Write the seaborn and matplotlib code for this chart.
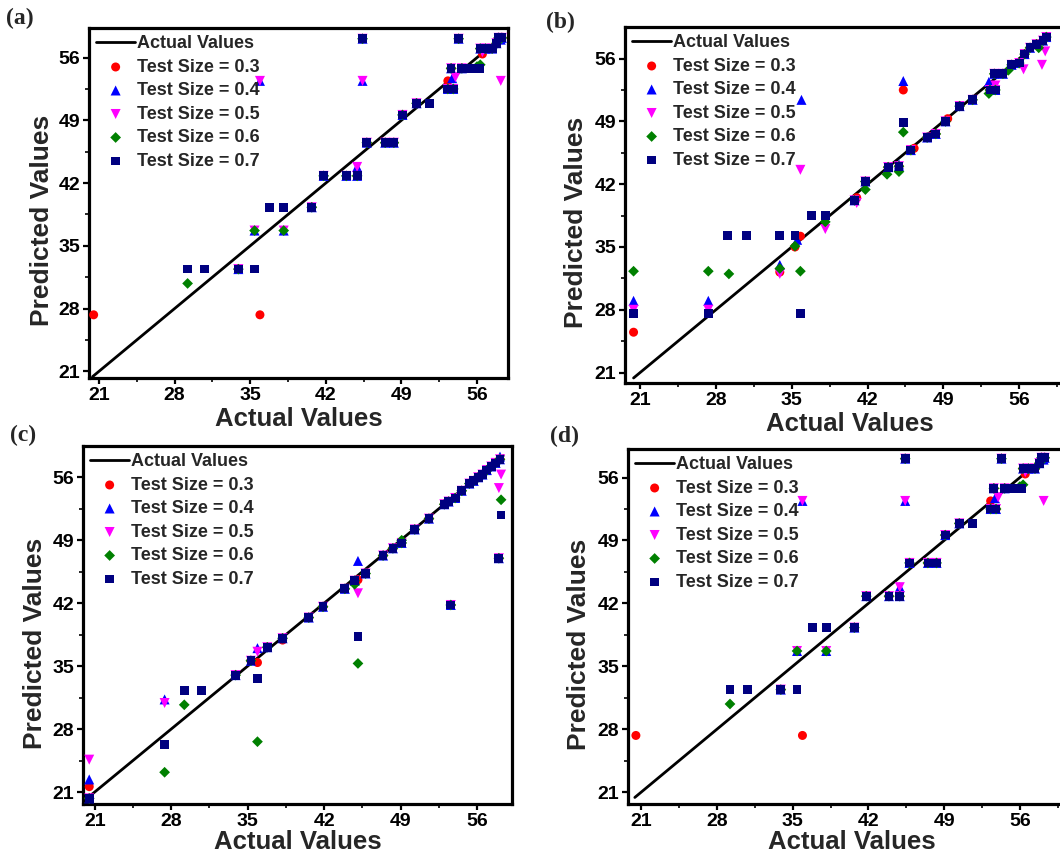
import matplotlib
matplotlib.use("Agg")
import matplotlib.pyplot as plt
import seaborn as sns
from matplotlib.ticker import FixedLocator

sns.set_theme(style="ticks")
plt.rcParams['font.family'] = ['Liberation Sans', 'DejaVu Sans']

# ---------------- data ----------------
SERIES_LABELS = ["Test Size = 0.3", "Test Size = 0.4", "Test Size = 0.5",
                 "Test Size = 0.6", "Test Size = 0.7"]
SERIES_COLORS = ["#ff0000", "#0000ff", "#ff00ff", "#008000", "#000080"]
SERIES_MARKERS = ["o", "^", "v", "D", "s"]
SERIES_SIZES = [42, 52, 52, 30, 40]
LINE_LABEL = "Actual Values"
MAJOR_TICKS = [21, 28, 35, 42, 49, 56]
LINE_X = [20.4, 58.4]
PANEL_LETTERS = ["(a)", "(b)", "(c)", "(d)"]

# (actual, predicted) pairs; COMMON points are shared by all five test sizes
A_COMMON = [(33.9, 32.4), (40.7, 39.3), (41.8, 42.8), (43.9, 42.8), (44.9, 42.8),
            (45.8, 46.5), (47.5, 46.5), (48.3, 46.5), (49.1, 49.6), (50.4, 50.9),
            (45.4, 58.1), (54.3, 58.1), (53.3, 52.5), (53.8, 52.5), (53.6, 54.8),
            (54.6, 54.8), (56.3, 57.0), (56.8, 57.0), (57.4, 57.0), (57.8, 57.6),
            (58.0, 58.2), (58.3, 58.2)]
A_TS03 = [(20.5, 27.3), (35.9, 27.3), (53.3, 53.4), (56.5, 56.4)]
A_TS04 = [(35.9, 53.4), (45.4, 53.4), (44.9, 43.8), (53.7, 53.7), (35.4, 36.7),
          (38.1, 36.7), (58.2, 58.0)]
A_TS05 = [(35.9, 53.4), (45.4, 53.4), (44.9, 43.8), (58.2, 53.4), (56.5, 56.6),
          (35.4, 36.7), (38.1, 36.7), (54.0, 53.8)]
A_TS06 = [(29.2, 30.8), (35.4, 36.7), (38.1, 36.7), (56.3, 55.2), (56.0, 55.0)]
A_TS07 = [(29.2, 32.4), (30.8, 32.4), (35.4, 32.4), (36.8, 39.3), (38.1, 39.3),
          (51.6, 50.9), (55.2, 54.8), (55.7, 54.8), (56.2, 54.8)]

B_COMMON = [(40.8, 40.2), (41.8, 42.3), (43.9, 43.9), (44.9, 44.0), (46.0, 45.8),
            (47.5, 47.2), (48.3, 47.6), (49.2, 49.0), (50.5, 50.7), (51.7, 51.4),
            (53.3, 52.5), (53.8, 52.5), (53.7, 54.3), (54.5, 54.3), (55.3, 55.3),
            (56.0, 55.5), (56.5, 56.5), (57.0, 57.2), (57.6, 57.6), (58.2, 58.0),
            (58.5, 58.4)]
B_TS03 = [(20.4, 25.5), (33.9, 32.2), (35.3, 35.0), (35.8, 36.2), (45.3, 52.5),
          (46.3, 46.0), (49.4, 49.3), (41.0, 40.5)]
B_TS04 = [(20.4, 29.0), (27.3, 29.0), (33.9, 33.0), (35.5, 35.8), (35.9, 51.4),
          (45.3, 53.5), (44.9, 44.2), (53.2, 53.4)]
B_TS05 = [(20.4, 28.0), (27.3, 28.0), (33.9, 32.0), (35.8, 43.6), (38.1, 37.0),
          (41.0, 39.9), (56.4, 54.8), (58.1, 55.3), (58.4, 56.8), (53.8, 53.0)]
B_TS06 = [(20.4, 32.3), (27.3, 32.3), (29.2, 32.0), (33.9, 32.6), (35.3, 35.1),
          (35.8, 32.3), (38.1, 37.8), (41.8, 41.4), (43.8, 43.1), (44.9, 43.4),
          (45.3, 47.8), (53.2, 52.1), (55.0, 54.7), (57.8, 57.2)]
B_TS07 = [(20.4, 27.6), (27.3, 27.6), (29.1, 36.3), (30.8, 36.3), (33.9, 36.3),
          (35.3, 36.3), (35.8, 27.6), (36.8, 38.5), (38.1, 38.5), (45.3, 48.9)]

C_COMMON = [(20.5, 20.3), (33.9, 34.0), (35.3, 35.6), (36.8, 37.1), (38.2, 38.1),
            (40.6, 40.4), (41.9, 41.6), (43.9, 43.6), (44.8, 44.5), (45.8, 45.3),
            (47.4, 47.3), (48.3, 48.1), (49.1, 48.7), (50.3, 50.2), (51.6, 51.4),
            (53.0, 53.0), (53.4, 53.3), (54.0, 53.7), (54.6, 54.5), (55.3, 55.3),
            (55.7, 55.6), (56.1, 56.0), (56.5, 56.3), (56.9, 56.8), (57.3, 57.2),
            (57.7, 57.6), (58.1, 58.0), (53.6, 41.8), (58.0, 47.0)]
C_TS03 = [(20.5, 21.6), (35.9, 35.4), (45.1, 44.6), (38.2, 37.9)]
C_TS04 = [(20.5, 22.4), (27.4, 31.3), (35.9, 37.0), (45.1, 46.7), (58.1, 58.3)]
C_TS05 = [(20.5, 24.6), (27.4, 30.9), (35.9, 36.6), (45.1, 43.1), (58.2, 56.3),
          (58.0, 54.8)]
C_TS06 = [(27.4, 23.2), (29.2, 30.7), (35.9, 26.6), (44.8, 44.1), (45.1, 35.3),
          (58.2, 53.5), (49.1, 49.0)]
C_TS07 = [(27.4, 26.3), (29.2, 32.3), (30.8, 32.3), (35.9, 33.6), (45.1, 38.3),
          (58.2, 51.8)]

D_COMMON = A_COMMON
D_TS03 = A_TS03
D_TS04 = A_TS04
D_TS05 = A_TS05
D_TS06 = A_TS06
D_TS07 = A_TS07

PANELS = [
    (A_COMMON, [A_TS03, A_TS04, A_TS05, A_TS06, A_TS07]),
    (B_COMMON, [B_TS03, B_TS04, B_TS05, B_TS06, B_TS07]),
    (C_COMMON, [C_TS03, C_TS04, C_TS05, C_TS06, C_TS07]),
    (D_COMMON, [D_TS03, D_TS04, D_TS05, D_TS06, D_TS07]),
]

# ---------------- layout ----------------
W, H = 1060, 856
BOXES = [(89, 28, 508, 378), (625, 27, 1075, 383),
         (83, 446, 512, 804), (628, 449, 1075, 804)]
XLIMS = [(20.07, 58.87), (19.61, 61.15), (19.93, 59.2), (19.77, 61.1)]
YLIMS = [(20.25, 59.3), (19.84, 59.52), (19.67, 59.48), (19.67, 59.18)]
LETTER_POS = [(6, 8), (546, 12), (10, 425), (550, 426)]
XLABEL_PAD = [2, 2, 0, 0]

fig = plt.figure(figsize=(W / 100, H / 100), dpi=100)
fig.patch.set_facecolor("white")

for i, (common, series) in enumerate(PANELS):
    l, t, r, b = BOXES[i]
    ax = fig.add_axes([l / W, 1 - b / H, (r - l) / W, (b - t) / H])
    ax.set_facecolor("white")
    sns.lineplot(x=LINE_X, y=LINE_X, color="black", linewidth=2.0, ax=ax,
                 label=LINE_LABEL, zorder=1)
    for k in range(5):
        pts = common + series[k]
        xs = [p[0] for p in pts]
        ys = [p[1] for p in pts]
        sns.scatterplot(x=xs, y=ys, color=SERIES_COLORS[k], marker=SERIES_MARKERS[k],
                        s=SERIES_SIZES[k], linewidth=0, edgecolor="none",
                        label=SERIES_LABELS[k], ax=ax, zorder=3 + k)
    ax.set_xlim(*XLIMS[i])
    ax.set_ylim(*YLIMS[i])
    ax.xaxis.set_major_locator(FixedLocator(MAJOR_TICKS))
    ax.yaxis.set_major_locator(FixedLocator(MAJOR_TICKS))
    ax.xaxis.set_minor_locator(FixedLocator([24.5, 31.5, 38.5, 45.5, 52.5, 59.5]))
    ax.yaxis.set_minor_locator(FixedLocator([24.5, 31.5, 38.5, 45.5, 52.5]))
    ax.tick_params(axis="both", which="major", direction="out", length=4.5, width=1.6,
                   labelsize=14, pad=2, colors="black", top=False, right=False)
    ax.tick_params(axis="both", which="minor", direction="out", length=2.8, width=1.4,
                   top=False, right=False)
    for lab in ax.get_xticklabels() + ax.get_yticklabels():
        lab.set_fontweight("bold")
    for sp in ax.spines.values():
        sp.set_linewidth(2.3)
        sp.set_color("black")
        sp.set_visible(True)
    ax.set_xlabel("Actual Values", fontsize=18.5, fontweight="bold",
                  labelpad=XLABEL_PAD[i])
    ax.set_ylabel("Predicted Values", fontsize=19, fontweight="bold")
    ax.yaxis.set_label_coords(-0.083, 0.45)
    ax.legend(loc="upper left", frameon=False,
              prop={"weight": "bold", "size": 13},
              handlelength=2.15, handletextpad=0.1, labelspacing=0.36,
              borderaxespad=0.1, borderpad=0.3, markerscale=1.0)
    lx, ly = LETTER_POS[i]
    fig.text(lx / W, 1 - ly / H, PANEL_LETTERS[i], fontsize=17, fontweight="bold",
             family=["Liberation Serif", "DejaVu Serif"], va="top", ha="left")

fig.savefig("out.png", dpi=100, facecolor="white")
